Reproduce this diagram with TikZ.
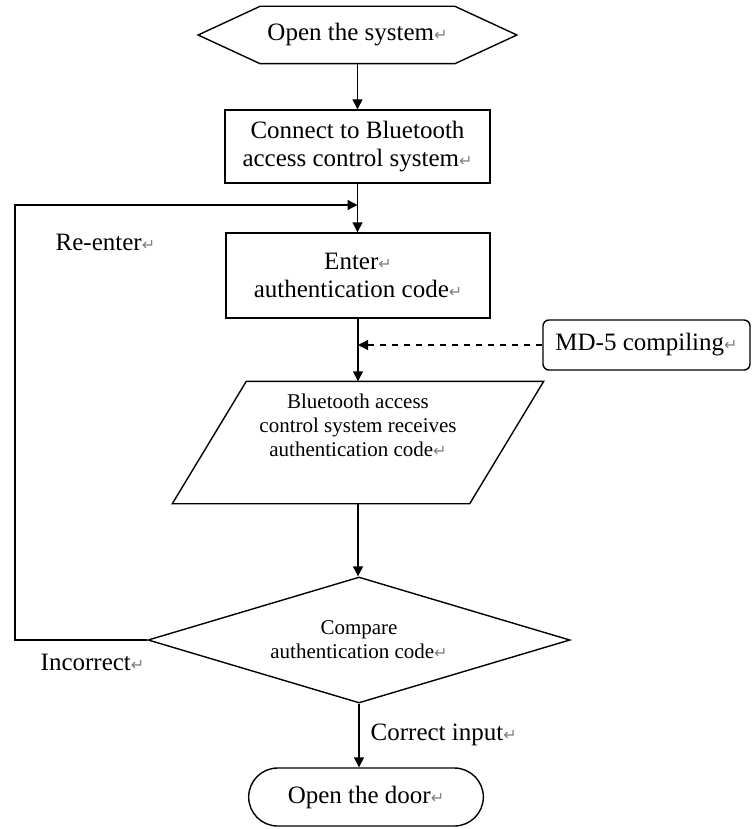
\documentclass[tikz,border=0pt]{standalone}
\usepackage{fontspec}
\setmainfont{Liberation Serif}
\newfontfamily\symfont{DejaVu Sans}
\usetikzlibrary{shapes.geometric,shapes.misc,arrows.meta}
\newcommand{\parmark}{{\color{gray}\symfont\fontsize{8}{8}\selectfont ↵}}

\begin{document}
\begin{tikzpicture}[x=0.5pt, y=-0.5pt, >={Triangle[length=5pt,width=5pt]}, line width=0.7pt,
  box/.style={draw, align=center, font=\fontsize{12.5}{14}\selectfont},
  small/.style={align=center, font=\fontsize{10.5}{12}\selectfont},
  lbl/.style={anchor=west, inner sep=0pt, font=\fontsize{12.5}{14}\selectfont}]
    \useasboundingbox (0,0) rectangle (751,829);

    \node[box, draw=none, minimum width=94.5pt, minimum height=28pt] (sys) at (357.5,35) {Open the system\parmark};
    \draw (sys.north west) -- (sys.north east) -- ([xshift=31pt]sys.east) -- (sys.south east)
        -- (sys.south west) -- ([xshift=-31pt]sys.west) -- cycle;

    \node[box, minimum width=132.5pt, minimum height=36.5pt] (conn) at (357.5,146.5) {Connect to Bluetooth\\access control system\parmark};
    \node[box, minimum width=132pt, minimum height=42.5pt] (enter) at (358,275.5) {Enter\parmark\\authentication code\parmark};
    \node[box, rounded corners=3pt, minimum width=103.5pt, minimum height=25pt] (md) at (646.5,345) {MD-5 compiling\parmark};

    \node[minimum width=148pt, minimum height=60.5pt] (recv) at (358,442.5) {};
    \draw ([xshift=18.5pt]recv.north west) -- ([xshift=18.5pt]recv.north east)
        -- ([xshift=-18.5pt]recv.south east) -- ([xshift=-18.5pt]recv.south west) -- cycle;
    \node[small] (recvtxt) at (358,425) {Bluetooth access\\control system receives\\authentication code\parmark};

    \node[diamond, draw, small, aspect=3.35, minimum width=211pt, minimum height=63pt, inner sep=0pt] (cmp) at (359,640) {Compare\\authentication code\parmark};
    \node[box, rounded rectangle, minimum width=124pt, minimum height=29pt] (door) at (366,797) {Open the door\parmark};

    \draw[->] (sys.south) -- (sys.south |- conn.north);
    \draw[->] (conn.south) -- (conn.south |- enter.north);
    \draw[->] (enter.south) -- (enter.south |- recv.north);
    \draw[->, dashed] (md.west) -- (md.west -| enter.south);
    \draw[->] (recv.south) -- (recv.south |- cmp.north);
    \coordinate (back) at (15,205);
    \draw[->] (cmp.west) -| (back) -- (back -| conn.south);
    \draw[->] (cmp.south) -- (cmp.south |- door.north);

    \node[lbl] (reenter) at (55,242) {Re-enter\parmark};
    \node[lbl] (wrong) at (40,662) {Incorrect\parmark};
    \node[lbl] (right) at (370,735) {Correct input\parmark};
\end{tikzpicture}
\end{document}
